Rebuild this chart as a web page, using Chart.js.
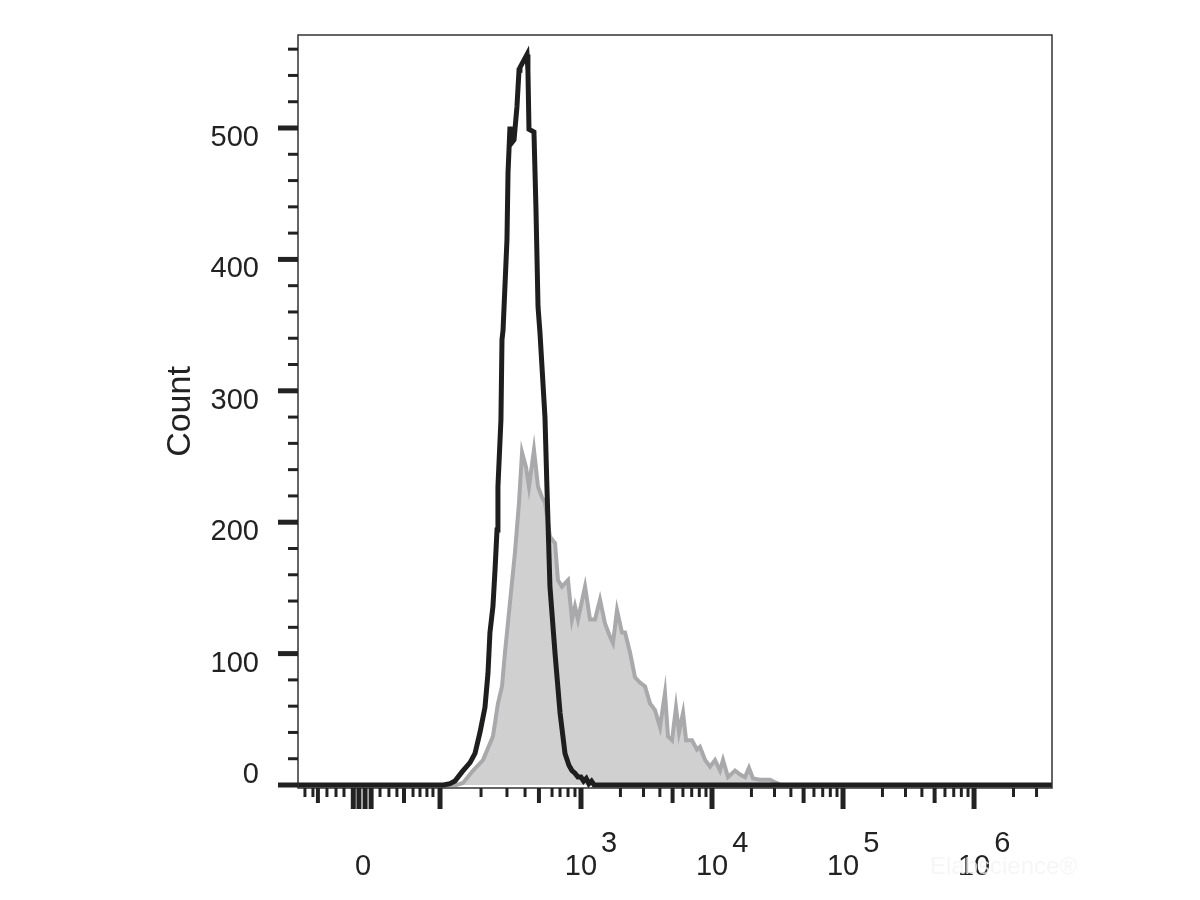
<!DOCTYPE html>
<html>
<head>
<meta charset="utf-8">
<title>Count histogram</title>
<script src="https://cdn.jsdelivr.net/npm/chart.js@4.4.1/dist/chart.umd.min.js"></script>
<style>
  html, body { margin: 0; padding: 0; background: #fff; }
  #wrap { width: 1200px; height: 900px; }
</style>
</head>
<body>
<div id="wrap"><canvas id="chart" width="1200" height="900"></canvas></div>
<script>
// x values are in display units of the biexponential axis (10^3 = 3, 10^4 = 4 ...)
const blackX = [0.84, 1.95, 2.000, 2.038, 2.092, 2.153, 2.191, 2.229, 2.267, 2.290,
    2.305, 2.328, 2.344, 2.359, 2.366, 2.389, 2.397, 2.405, 2.435, 2.443,
    2.458, 2.473, 2.489, 2.511, 2.527, 2.534, 2.588, 2.595, 2.603, 2.641,
    2.656, 2.672, 2.687, 2.725, 2.740, 2.763, 2.802, 2.840, 2.878, 2.908,
    2.931, 2.954, 2.977, 3.000, 3.020, 3.040, 3.060, 3.080, 3.100, 6.60];
const blackCount = [0, 0, 1, 3, 10, 17, 24, 40, 59, 85,
    116, 136, 164, 194, 227, 278, 339, 346, 415, 466,
    501, 489, 491, 516, 544, 546, 556, 544, 499, 497,
    440, 364, 344, 280, 227, 151, 100, 55, 24, 15,
    11, 9, 6, 6, 3, 5, 1, 3, 0, 0];

const greyX = [0.84, 2.05, 2.099, 2.176, 2.252, 2.328, 2.366, 2.397, 2.420, 2.458,
    2.496, 2.527, 2.550, 2.580, 2.603, 2.641, 2.672, 2.702, 2.725, 2.763,
    2.802, 2.824, 2.855, 2.901, 2.931, 2.954, 2.977, 3.031, 3.069, 3.107,
    3.145, 3.183, 3.221, 3.244, 3.275, 3.313, 3.336, 3.374, 3.412, 3.450,
    3.489, 3.527, 3.565, 3.603, 3.641, 3.664, 3.695, 3.725, 3.748, 3.779,
    3.802, 3.847, 3.885, 3.908, 3.947, 3.985, 4.023, 4.061, 4.084, 4.122,
    4.176, 4.214, 4.252, 4.282, 4.313, 4.366, 4.443, 4.481, 4.496, 4.519, 6.60];
const greyCount = [0, 0, 1.5, 11, 19, 37, 62, 75, 101, 139,
    177, 215, 253, 242, 227, 255, 227, 219, 215, 189,
    184, 156, 151, 156, 126, 136, 126, 151, 126, 126,
    141, 123, 113, 108, 133, 116, 116, 101, 82, 78,
    75, 62, 57, 44, 70, 37, 34, 59, 40, 55,
    34, 34, 27, 29, 19, 14, 19, 11, 19, 6,
    11, 8, 6, 13, 5, 4, 4, 2, 1.5, 0, 0];

// y axis
const yTicks = [0, 100, 200, 300, 400, 500];
const yMinorTicks = [20, 40, 60, 80, 120, 140, 160, 180, 220, 240, 260, 280,
    320, 340, 360, 380, 420, 440, 460, 480, 520, 540, 560];

// x axis tick marks (display units)
const xMajorTicks = [1.262, 1.305, 1.352, 1.398, 1.924, 3, 4, 5, 6];
const xMediumTicks = [0.992, 1.649, 2.679, 3.699, 4.699, 5.699];
const xMinorTicks = [0.893, 0.954, 1.061, 1.130, 1.191, 1.466, 1.534, 1.595, 1.718, 1.771, 1.824, 1.870,
    2.237, 2.435, 2.573, 2.779, 2.840, 2.901, 2.954,
    3.301, 3.477, 3.602, 3.778, 3.845, 3.903, 3.954,
    4.301, 4.477, 4.602, 4.778, 4.845, 4.903, 4.954,
    5.301, 5.477, 5.602, 5.778, 5.845, 5.903, 5.954,
    6.301, 6.477];

const xLabelPos = [1.336, 3, 4, 5, 6];
const xLabelBase = ['0', '10', '10', '10', '10'];
const xLabelExp = ['', '3', '4', '5', '6'];

const FONT = '"Liberation Sans", Arial, sans-serif';
const INK = '#222';

const toPoints = (xs, ys) => xs.map((x, i) => ({ x: x, y: ys[i] }));

// frame, tick marks, x labels
const axisMarks = {
    id: 'axisMarks',
    afterDraw(chart) {
        const { ctx, chartArea: a, scales: { x, y } } = chart;
        ctx.save();

        ctx.strokeStyle = '#333';
        ctx.lineWidth = 1.5;
        ctx.strokeRect(a.left, a.top, a.right - a.left, a.bottom - a.top);

        ctx.strokeStyle = INK;
        const yMark = (v, len, w) => {
            const py = y.getPixelForValue(v);
            ctx.lineWidth = w;
            ctx.beginPath();
            ctx.moveTo(a.left - len, py);
            ctx.lineTo(a.left, py);
            ctx.stroke();
        };
        yTicks.forEach(v => yMark(v, 20, 5));
        yMinorTicks.forEach(v => yMark(v, 10, 3));

        const xMark = (v, len, w) => {
            const px = x.getPixelForValue(v);
            ctx.lineWidth = w;
            ctx.beginPath();
            ctx.moveTo(px, a.bottom);
            ctx.lineTo(px, a.bottom + len);
            ctx.stroke();
        };
        xMinorTicks.forEach(v => xMark(v, 9, 3));
        xMediumTicks.forEach(v => xMark(v, 15, 4));
        xMajorTicks.forEach(v => xMark(v, 21, 5));

        ctx.fillStyle = INK;
        ctx.font = '29px ' + FONT;
        ctx.textBaseline = 'alphabetic';

        // "0" of the y axis sits above its tick
        ctx.textAlign = 'right';
        ctx.fillText('0', 259, y.getPixelForValue(0) - 2);

        xLabelPos.forEach((v, i) => {
            const px = x.getPixelForValue(v);
            ctx.textAlign = 'center';
            ctx.fillText(xLabelBase[i], px, 875);
            if (xLabelExp[i]) {
                const w = ctx.measureText(xLabelBase[i]).width;
                ctx.textAlign = 'left';
                ctx.fillText(xLabelExp[i], px + w / 2 + 4, 852);
            }
        });

        // faint watermark
        ctx.font = '24px ' + FONT;
        ctx.fillStyle = 'rgba(244,244,244,0.8)';
        ctx.textAlign = 'left';
        ctx.fillText('Elabscience\u00AE', 930, 874);

        ctx.restore();
    }
};

new Chart(document.getElementById('chart'), {
    type: 'line',
    data: {
        datasets: [
            {
                label: 'Unstained',
                data: toPoints(blackX, blackCount),
                borderColor: '#1e1e1e',
                borderWidth: 5,
                fill: false,
                pointRadius: 0,
                tension: 0,
                order: 0
            },
            {
                label: 'Stained',
                data: toPoints(greyX, greyCount),
                borderColor: '#a9a9ab',
                backgroundColor: '#d0d0d0',
                borderWidth: 4,
                fill: 'origin',
                pointRadius: 0,
                tension: 0,
                order: 1
            }
        ]
    },
    options: {
        responsive: false,
        animation: false,
        layout: { padding: { left: 0, top: 35, right: 148, bottom: 112 } },
        plugins: {
            legend: { display: false },
            tooltip: { enabled: false }
        },
        scales: {
            x: {
                type: 'linear',
                min: 0.84,
                max: 6.595,
                display: false
            },
            y: {
                type: 'linear',
                min: -2.28,
                max: 570.78,
                afterFit: scale => {
                    scale.width = 298;
                    scale.paddingTop = 0;
                    scale.paddingBottom = 0;
                },
                afterBuildTicks: scale => { scale.ticks = yTicks.map(v => ({ value: v })); },
                border: { display: false },
                grid: { display: false },
                ticks: {
                    padding: 31,
                    labelOffset: 10,
                    color: INK,
                    font: { family: FONT, size: 29 },
                    callback: v => (v === 0 ? '' : String(v))
                },
                title: {
                    display: true,
                    text: 'Count',
                    color: INK,
                    font: { family: FONT, size: 34 },
                    padding: { top: 160, bottom: 0 }
                }
            }
        }
    },
    plugins: [axisMarks]
});
</script>
</body>
</html>
